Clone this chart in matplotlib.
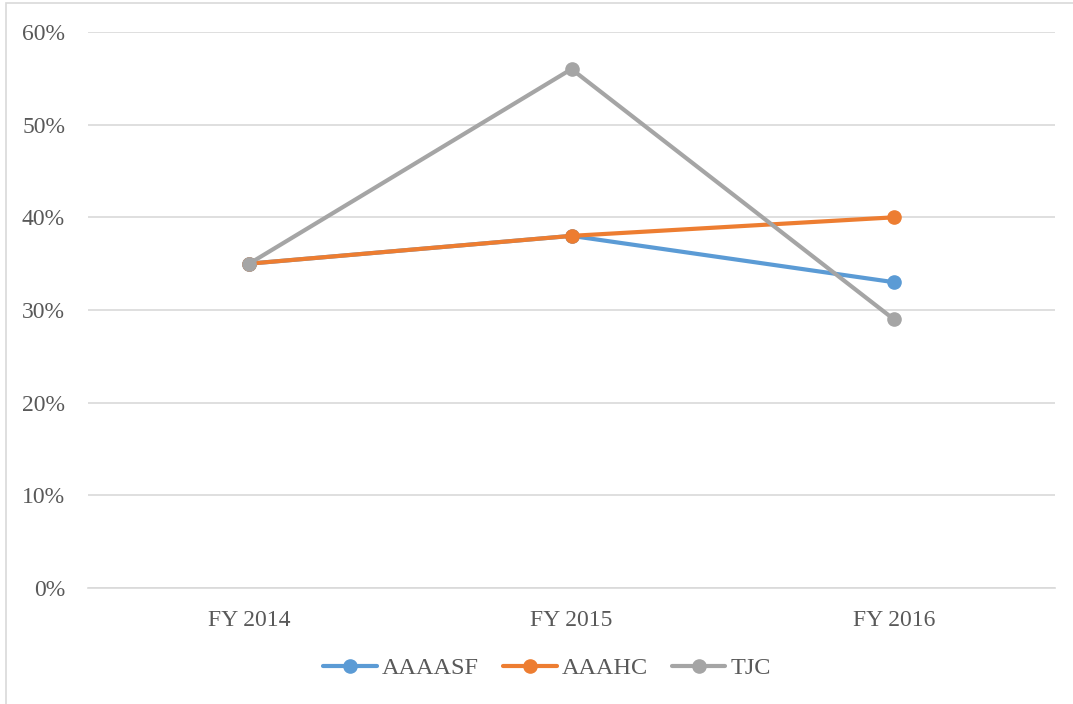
import matplotlib.pyplot as plt
from matplotlib.patches import Rectangle
from matplotlib.ticker import PercentFormatter

# 年度別データ
years = ["FY 2014", "FY 2015", "FY 2016"]
aaaasf = [35, 38, 33]
aaahc = [35, 38, 40]
tjc = [35, 56, 29]

series = [
    ("AAAASF", aaaasf, "#5B9BD5"),
    ("AAAHC", aaahc, "#ED7D31"),
    ("TJC", tjc, "#A5A5A5"),
]

plt.rcParams['font.family'] = ['Liberation Serif', 'DejaVu Serif']
text_color = "#595959"

fig = plt.figure(figsize=(10.73, 7.04), dpi=100)
ax = fig.add_axes([88 / 1073, 1 - 588 / 704, (1055 - 88) / 1073, (588 - 32) / 704])

x = range(len(years))
for name, vals, color in series:
    ax.plot(x, [v / 100 for v in vals], color=color, lw=3, marker="o",
            markersize=9.5, label=name, solid_capstyle="round", zorder=3)

ax.set_xlim(-0.5, len(years) - 0.5)
ax.set_ylim(0, 0.6)
ax.set_yticks([i / 10 for i in range(7)])
ax.yaxis.set_major_formatter(PercentFormatter(1.0, decimals=0))
ax.set_xticks(list(x))
ax.set_xticklabels(years)

ax.grid(axis="y", color="#D9D9D9", lw=1.2, zorder=0)
for side in ["top", "right", "left"]:
    ax.spines[side].set_visible(False)
ax.spines["bottom"].set_color("#D9D9D9")
ax.spines["bottom"].set_linewidth(1.2)
ax.tick_params(axis="both", length=0, labelsize=17, labelcolor=text_color)
ax.tick_params(axis="y", pad=16.5)
ax.tick_params(axis="x", pad=16)

leg = fig.legend(loc="center", bbox_to_anchor=(547 / 1073, 1 - 668 / 704), ncol=3,
                 frameon=False, fontsize=17.5, handlelength=2.2, handletextpad=0.2,
                 columnspacing=1.0)
for t in leg.get_texts():
    t.set_color(text_color)

# グラフエリアの枠線
fig.patches.append(Rectangle((6 / 1073, -0.01), 1.02, 1 - 3 / 704 + 0.01,
                             transform=fig.transFigure, fill=False,
                             edgecolor="#D9D9D9", lw=1.2))

fig.savefig("out.png", dpi=100)
